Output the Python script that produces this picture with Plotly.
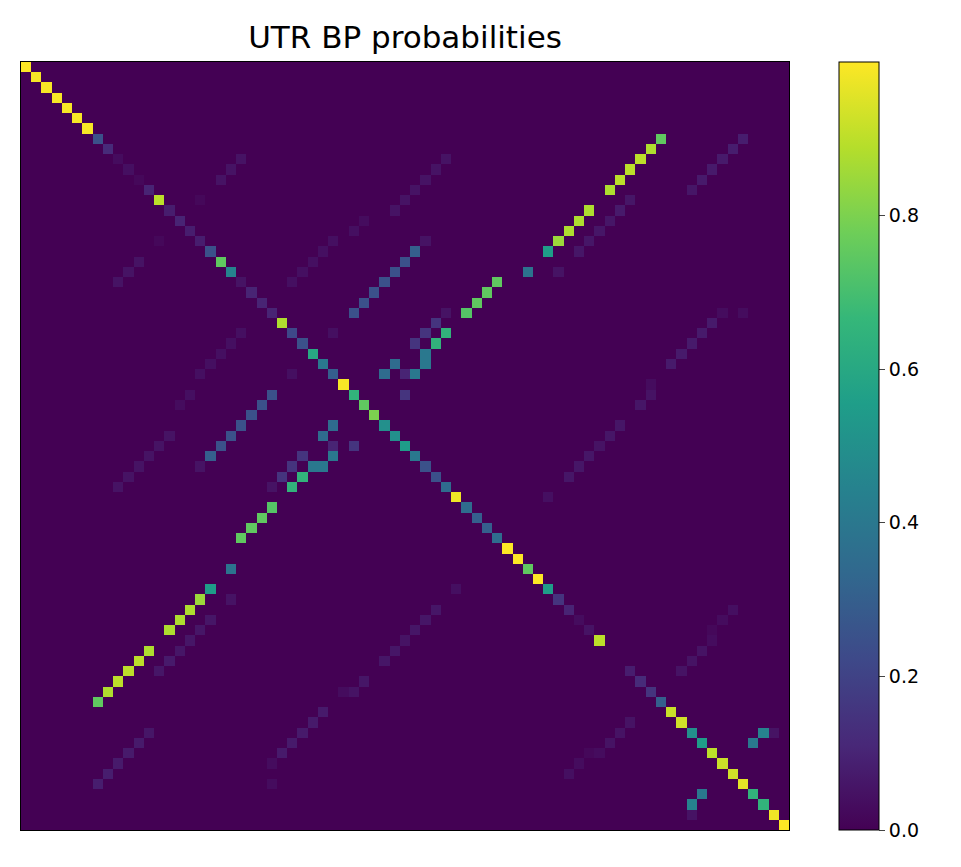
import numpy as np
import plotly.graph_objects as go

n = 75

# diagonal values (index 0..74)
diag = [1.0, 0.99, 0.99, 0.99, 0.99, 0.99, 0.99, 0.25, 0.12, 0.03,
        0.04, 0.02, 0.10, 0.90, 0.08, 0.10, 0.08, 0.08, 0.25, 0.75,
        0.45, 0.05, 0.10, 0.10, 0.10, 0.88, 0.22, 0.25, 0.60, 0.40,
        0.30, 0.99, 0.65, 0.75, 0.80, 0.50, 0.50, 0.55, 0.40, 0.25,
        0.25, 0.35, 0.98, 0.35, 0.30, 0.30, 0.35, 1.0, 1.0, 0.75,
        1.0, 0.55, 0.15, 0.10, 0.03, 0.05, 0.90, 0.0, 0.0, 0.08,
        0.12, 0.15, 0.30, 0.92, 0.93, 0.50, 0.55, 0.90, 0.92, 0.93,
        0.96, 0.65, 0.65, 0.98, 1.0]

# upper-triangle pair probabilities (row, col, value); matrix is symmetric
pair_i = [9, 10, 11, 13, 13, 14, 15, 16, 17, 18, 19, 19, 20, 20, 21, 21, 22, 23, 24,
          26, 29, 30, 30, 32,
          7, 7, 8, 8, 9, 9, 9, 10, 10, 10, 11, 11, 11, 12, 12, 12, 13,
          14, 14, 15, 15, 16, 16, 17, 17, 17, 18, 18, 18,
          20, 20, 21, 22, 23, 24, 24, 24, 24, 25, 25, 26, 26, 26, 27, 27, 27,
          28, 28, 29, 29, 30, 31, 32, 33, 35, 36, 37, 38, 39, 40, 42,
          53, 54, 55, 56, 57, 58, 59, 65, 65, 66]
pair_j = [21, 20, 19, 17, 37, 36, 33, 32, 30, 29, 28, 37, 27, 36, 26, 35, 34, 33, 32,
          30, 36, 35, 37, 37,
          62, 70, 61, 69, 60, 68, 41, 59, 67, 40, 58, 66, 39, 57, 65, 38, 59,
          55, 58, 54, 57, 53, 56, 52, 55, 39, 51, 54, 38,
          49, 52, 46, 45, 44, 43, 41, 68, 70, 40, 67, 41, 39, 66, 40, 38, 65,
          39, 64, 39, 63, 38, 61, 61, 60, 58, 57, 56, 55, 54, 53, 51,
          69, 68, 67, 67, 66, 65, 64, 72, 73, 71]
pair_p = [0.05, 0.05, 0.05, 0.02, 0.05, 0.05, 0.03, 0.04, 0.04, 0.04, 0.04, 0.25, 0.04, 0.25, 0.04, 0.25, 0.25, 0.25, 0.25,
          0.04, 0.35, 0.35, 0.10, 0.15,
          0.75, 0.08, 0.88, 0.08, 0.90, 0.07, 0.05, 0.90, 0.07, 0.05, 0.90, 0.07, 0.05, 0.88, 0.06, 0.05, 0.06,
          0.88, 0.07, 0.88, 0.06, 0.88, 0.06, 0.85, 0.06, 0.05, 0.55, 0.06, 0.30,
          0.38, 0.05, 0.75, 0.75, 0.75, 0.73, 0.05, 0.03, 0.03, 0.15, 0.07, 0.65, 0.15, 0.07, 0.65, 0.15, 0.07,
          0.40, 0.07, 0.40, 0.07, 0.40, 0.03, 0.05, 0.06, 0.06, 0.06, 0.05, 0.06, 0.06, 0.06, 0.04,
          0.04, 0.03, 0.02, 0.03, 0.05, 0.05, 0.05, 0.45, 0.05, 0.40]

z = np.zeros((n, n))
for k in range(n):
    z[k, k] = diag[k]
for i, j, p in zip(pair_i, pair_j, pair_p):
    z[i, j] = p
    z[j, i] = p

fig = go.Figure(go.Heatmap(
    z=z, colorscale='Viridis', zmin=0, zmax=1.0,
    colorbar=dict(x=(838 - 20) / 768, xanchor='left', xpad=0, ypad=0, y=0.5, len=1, thickness=40,
                  outlinecolor='black', outlinewidth=1, ticks='outside', ticklen=6,
                  tickvals=[0, 0.2, 0.4, 0.6, 0.8], ticktext=['0.0', '0.2', '0.4', '0.6', '0.8'],
                  tickfont=dict(size=19, color='black'))))

fig.update_xaxes(showticklabels=False, ticks='', showgrid=False, zeroline=False,
                 showline=True, mirror=True, linecolor='black', linewidth=1)
fig.update_yaxes(showticklabels=False, ticks='', showgrid=False, zeroline=False,
                 showline=True, mirror=True, linecolor='black', linewidth=1, autorange='reversed')
fig.update_layout(
    width=961, height=867,
    margin=dict(l=13, r=180, t=54, b=45),
    title=dict(text='UTR BP probabilities', x=(13 + 781) / 2 / 961, xanchor='center',
               y=1 - 29 / 867, yanchor='middle', font=dict(size=31, color='black')),
    font=dict(family='DejaVu Sans'),
    plot_bgcolor='white', paper_bgcolor='white')

fig.write_html("out.html")
